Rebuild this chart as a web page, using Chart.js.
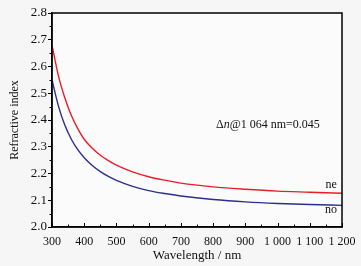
<!DOCTYPE html>
<html lang="en">
  <head>
    <meta charset="UTF-8" />
    <title>Refractive index</title>
    <script src="https://cdn.jsdelivr.net/npm/chart.js"></script>
    <style>
      html, body { margin: 0; padding: 0; background: #f6f6f6; }
      #wrap { width: 361px; height: 266px; }
    </style>
  </head>
  <body>
    <div id="wrap"><canvas id="myChart"></canvas></div>
    <script>
      // wavelengths (nm) and indices
      const wavelengths = [300, 320, 340, 360, 380, 400, 425, 450, 475, 500, 550, 600, 650, 700, 800, 900, 1000, 1100, 1200];
      const neValues = [2.680, 2.565, 2.482, 2.417, 2.368, 2.328, 2.294, 2.268, 2.248, 2.231, 2.206, 2.188, 2.175, 2.164, 2.150, 2.141, 2.134, 2.130, 2.126];
      const noValues = [2.550, 2.452, 2.380, 2.328, 2.289, 2.259, 2.230, 2.207, 2.189, 2.174, 2.152, 2.136, 2.125, 2.116, 2.103, 2.094, 2.088, 2.084, 2.081];
      const xTicks = [300, 400, 500, 600, 700, 800, 900, 1000, 1100, 1200];
      const yTicks = [2.0, 2.1, 2.2, 2.3, 2.4, 2.5, 2.6, 2.7, 2.8];

      const serif = "'Liberation Serif', 'DejaVu Serif', serif";

      // frame, background, ticks and the text notes
      const decor = {
        id: "decor",
        beforeDraw(chart) {
          const { ctx, chartArea: a } = chart;
          ctx.save();
          ctx.fillStyle = "#fbfbfb";
          ctx.fillRect(a.left, a.top, a.right - a.left, a.bottom - a.top);
          ctx.restore();
        },
        afterDraw(chart) {
          const { ctx, chartArea: a, scales } = chart;
          const x = scales.x, y = scales.y;
          ctx.save();
          ctx.strokeStyle = "#000";
          ctx.lineWidth = 1.5;
          ctx.strokeRect(a.left, a.top, a.right - a.left, a.bottom - a.top);
          ctx.lineWidth = 1;
          ctx.beginPath();
          xTicks.forEach((v, i) => {
            const px = Math.round(x.getPixelForValue(v)) + 0.5;
            ctx.moveTo(px, a.bottom);
            ctx.lineTo(px, a.bottom - 4);
            if (i < xTicks.length - 1) {
              const pm = Math.round(x.getPixelForValue(v + 50)) + 0.5;
              ctx.moveTo(pm, a.bottom);
              ctx.lineTo(pm, a.bottom - 2.5);
            }
          });
          for (let i = 0; i < yTicks.length - 1; i++) {
            const py = Math.round(y.getPixelForValue(yTicks[i] + 0.05)) + 0.5;
            ctx.moveTo(a.left, py);
            ctx.lineTo(a.left - 2.5, py);
          }
          ctx.stroke();

          ctx.fillStyle = "#111";
          ctx.textBaseline = "middle";
          ctx.textAlign = "center";
          ctx.font = "12px " + serif;
          ctx.fillText("ne", x.getPixelForValue(1166), y.getPixelForValue(2.157));
          ctx.fillText("no", x.getPixelForValue(1166), y.getPixelForValue(2.064));

          // Δn@1 064 nm=0.045 with italic n
          const parts = [["Δ", "12px "], ["n", "italic 12px "], ["@1 064 nm=0.045", "12px "]];
          let total = 0;
          parts.forEach((p) => { ctx.font = p[1] + serif; total += ctx.measureText(p[0]).width; });
          let cx = x.getPixelForValue(970) - total / 2;
          const cy = y.getPixelForValue(2.381);
          ctx.textAlign = "left";
          parts.forEach((p) => {
            ctx.font = p[1] + serif;
            ctx.fillText(p[0], cx, cy);
            cx += ctx.measureText(p[0]).width;
          });
          ctx.restore();
        },
      };

      const fmtThousands = (v) => {
        const s = String(v);
        return s.length > 3 ? s.slice(0, s.length - 3) + " " + s.slice(-3) : s;
      };

      new Chart(document.getElementById("myChart"), {
        type: "line",
        data: {
          datasets: [
            {
              label: "ne",
              data: wavelengths.map((w, i) => ({ x: w, y: neValues[i] })),
              borderColor: "#ec1c2a",
              borderWidth: 1.4,
              pointRadius: 0,
              cubicInterpolationMode: "monotone",
            },
            {
              label: "no",
              data: wavelengths.map((w, i) => ({ x: w, y: noValues[i] })),
              borderColor: "#2b2f8f",
              borderWidth: 1.4,
              pointRadius: 0,
              cubicInterpolationMode: "monotone",
            },
          ],
        },
        options: {
          responsive: true,
          maintainAspectRatio: false,
          animation: false,
          devicePixelRatio: 1,
          layout: { padding: { top: 13, right: 19, left: 0, bottom: 0 } },
          plugins: { legend: { display: false }, tooltip: { enabled: false } },
          scales: {
            x: {
              type: "linear",
              min: 300,
              max: 1200,
              afterBuildTicks: (s) => { s.ticks = xTicks.map((v) => ({ value: v })); },
              afterFit: (s) => { s.height = 39; },
              ticks: {
                color: "#111",
                padding: 0,
                maxRotation: 0,
                autoSkip: false,
                font: { family: serif, size: 12 },
                callback: (v) => fmtThousands(v),
              },
              grid: { display: false },
              border: { color: "#000", width: 1.5 },
              title: {
                display: true,
                text: "Wavelength / nm",
                color: "#111",
                padding: { top: 1, bottom: 3 },
                font: { family: serif, size: 13 },
              },
            },
            y: {
              min: 2.0,
              max: 2.8,
              afterBuildTicks: (s) => { s.ticks = yTicks.map((v) => ({ value: v })); },
              afterFit: (s) => { s.width = 52; },
              ticks: {
                color: "#111",
                padding: 1,
                autoSkip: false,
                font: { family: serif, size: 13 },
                callback: (v) => v.toFixed(1),
              },
              grid: { drawOnChartArea: false, tickLength: 4, tickColor: "#000" },
              border: { color: "#000", width: 1.5 },
              title: {
                display: true,
                text: "Refractive index",
                color: "#111",
                padding: { top: 8, bottom: 2 },
                font: { family: serif, size: 12 },
              },
            },
          },
        },
        plugins: [decor],
      });
    </script>
  </body>
</html>
